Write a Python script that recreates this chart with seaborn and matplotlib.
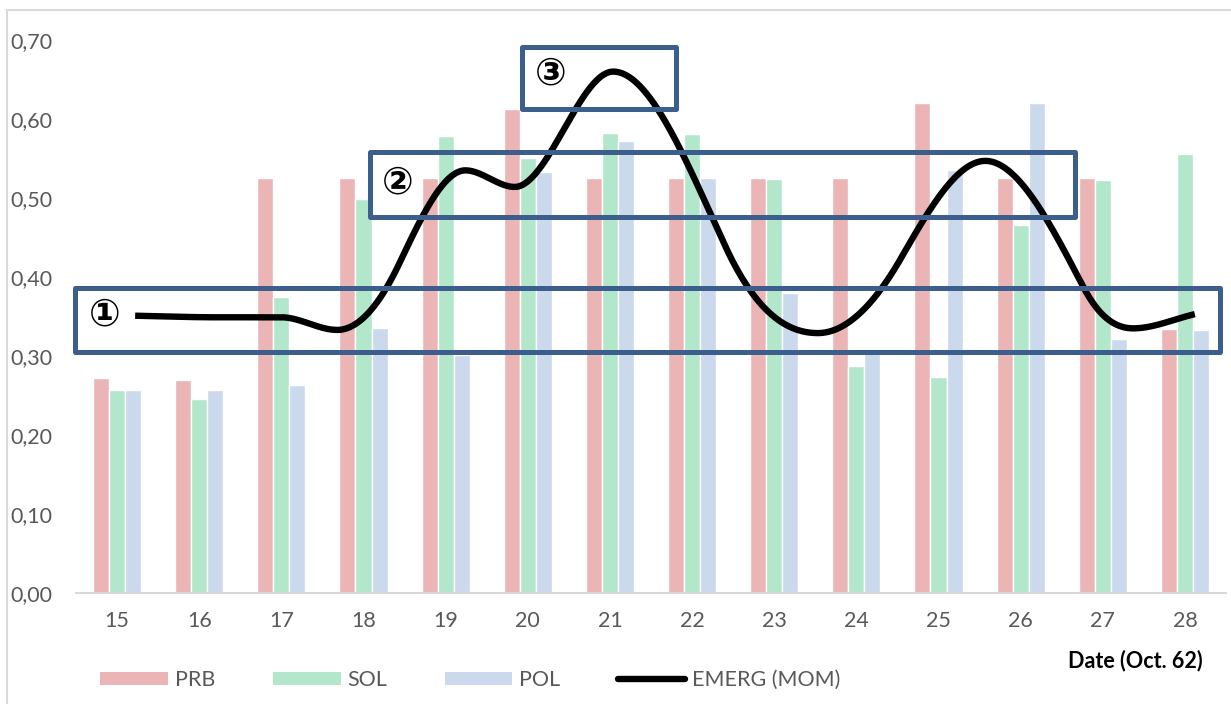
import numpy as np
import pandas as pd
import matplotlib
matplotlib.use("Agg")
import matplotlib.pyplot as plt
from matplotlib.patches import Rectangle, Patch
from matplotlib.lines import Line2D
import seaborn as sns

# ---- data -------------------------------------------------------------
dates = [15, 16, 17, 18, 19, 20, 21, 22, 23, 24, 25, 26, 27, 28]
prb = [0.272, 0.270, 0.525, 0.525, 0.525, 0.613, 0.525, 0.525, 0.525, 0.525, 0.620, 0.525, 0.525, 0.334]
sol = [0.257, 0.245, 0.375, 0.499, 0.579, 0.551, 0.582, 0.581, 0.524, 0.287, 0.274, 0.466, 0.523, 0.556]
pol = [0.257, 0.257, 0.263, 0.336, 0.301, 0.533, 0.572, 0.525, 0.380, 0.305, 0.535, 0.620, 0.322, 0.333]

# EMERG (MOM) curve knots (date position, value)
emerg_x = [15.22, 16.2, 17.0, 17.68, 18.44, 19.24, 19.84, 21.04, 22.4, 23.53, 24.55, 25.57, 26.76, 27.37, 28.12]
emerg_y = [0.351, 0.349, 0.349, 0.333, 0.418, 0.535, 0.514, 0.660, 0.440, 0.329, 0.425, 0.547, 0.388, 0.335, 0.353]

series_names = ["PRB", "SOL", "POL"]
series_colors = {"PRB": "#EBB5B5", "SOL": "#B3E7CB", "POL": "#CAD9EC"}
yticks = [0.0, 0.1, 0.2, 0.3, 0.4, 0.5, 0.6, 0.7]

# highlighted zones: (date_left, date_right, value_bottom, value_top, tag, tag_x, tag_y)
zones = [
    (14.49, 28.43, 0.305, 0.386, "\u2460", 14.85, 0.351),
    (18.08, 26.66, 0.476, 0.558, "\u2461", 18.42, 0.518),
    (19.93, 21.80, 0.613, 0.691, "\u2462", 20.28, 0.656),
]
box_color = "#3B5E8C"

# ---- helpers ----------------------------------------------------------
def smooth(x, y, n=60, gain=1.7):
    """Cubic Hermite curve through the knots: flat at local extremes,
    sine-like steepness at the knots in between."""
    x = np.asarray(x, float)
    y = np.asarray(y, float)
    h = np.diff(x)
    d = np.diff(y) / h
    m = np.zeros_like(y)
    for k in range(1, len(x) - 1):
        if d[k - 1] * d[k] > 0:
            c = gain * (y[k + 1] - y[k - 1]) / (x[k + 1] - x[k - 1])
            lim = 3 * min(abs(d[k - 1]), abs(d[k]))
            m[k] = np.sign(c) * min(abs(c), lim)
    m[0] = d[0]
    m[-1] = d[-1]
    xs, ys = [], []
    for k in range(len(x) - 1):
        t = np.linspace(0, 1, n, endpoint=(k == len(x) - 2))
        h00 = 2 * t**3 - 3 * t**2 + 1
        h10 = t**3 - 2 * t**2 + t
        h01 = -2 * t**3 + 3 * t**2
        h11 = t**3 - t**2
        xs.append(x[k] + t * h[k])
        ys.append(h00 * y[k] + h10 * h[k] * m[k] + h01 * y[k + 1] + h11 * h[k] * m[k + 1])
    return np.concatenate(xs), np.concatenate(ys)


# ---- figure -----------------------------------------------------------
sns.set_theme(style="white")
plt.rcParams["font.family"] = ["Lato", "DejaVu Sans"]

fig = plt.figure(figsize=(12.31, 7.04), dpi=100)
ax = fig.add_axes([76 / 1231, 1 - 593 / 704, (1226 - 76) / 1231, (593 - 40) / 704])

df = pd.DataFrame({
    "date": [str(d) for d in dates] * 3,
    "series": sum([[s] * len(dates) for s in series_names], []),
    "value": prb + sol + pol,
})
sns.barplot(data=df, x="date", y="value", hue="series", hue_order=series_names,
            palette=series_colors, saturation=1, width=0.585, errorbar=None,
            legend=False, ax=ax, zorder=2)

# smoothed EMERG curve (category positions start at 0 for the first date)
cx, cy = smooth(emerg_x, emerg_y)
ax.plot(cx - dates[0], cy, color="black", lw=4.6, solid_capstyle="butt", zorder=3)

# highlighted zones with circled tags
for x0, x1, y0, y1, tag, tx, ty in zones:
    ax.add_patch(Rectangle((x0 - dates[0], y0), x1 - x0, y1 - y0, fill=False,
                           edgecolor=box_color, lw=3.6, joinstyle="round",
                           zorder=4, clip_on=False))
    ax.text(tx - dates[0], ty, tag, family="DejaVu Sans", fontweight="bold",
            fontsize=27, color="black", ha="center", va="center", zorder=5)

ax.set_xlim(-0.5, len(dates) - 0.5)
ax.set_ylim(0, 0.70)
ax.set_yticks(yticks)
ax.set_yticklabels([f"{v:.2f}".replace(".", ",") for v in yticks])
for lab in ax.get_yticklabels():
    lab.set_horizontalalignment("left")
ax.tick_params(axis="y", length=0, pad=47, labelsize=15.5, labelcolor="#595959")
ax.tick_params(axis="x", length=0, pad=13, labelsize=15.5, labelcolor="#595959")
ax.set_xlabel("")
ax.set_ylabel("")
for side in ["left", "right", "top"]:
    ax.spines[side].set_visible(False)
ax.spines["bottom"].set_color("#D9D9D9")
ax.spines["bottom"].set_linewidth(1.5)
ax.grid(False)

fig.text(1203 / 1231, 1 - 661 / 704, "Date (Oct. 62)", ha="right", va="center",
         fontsize=15.5, fontweight="bold", color="black")

handles = [Patch(facecolor=series_colors[s], edgecolor="none", label=s) for s in series_names]
handles.append(Line2D([0], [0], color="black", lw=4.6, label="EMERG (MOM)"))
leg = fig.legend(handles=handles, ncol=4, loc="center left",
                 bbox_to_anchor=(81 / 1231, 1 - 680 / 704), frameon=False,
                 fontsize=15.5, handlelength=3.15, handleheight=0.6,
                 handletextpad=0.3, columnspacing=2.68)
for t in leg.get_texts():
    t.set_color("#595959")

# chart-area border
fig.add_artist(Line2D([7 / 1231, 7 / 1231], [0, 1 - 10 / 704], color="#D9D9D9", lw=1.5))
fig.add_artist(Line2D([7 / 1231, 1], [1 - 10 / 704, 1 - 10 / 704], color="#D9D9D9", lw=1.5))

fig.savefig("out.png", dpi=100, facecolor="white")
